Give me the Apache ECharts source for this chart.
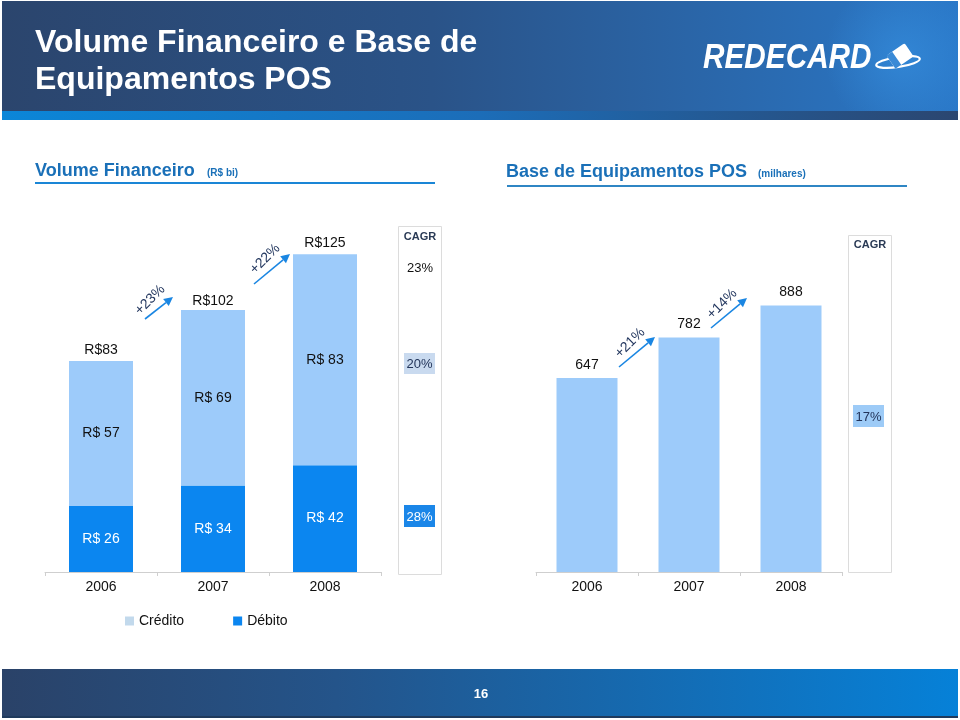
<!DOCTYPE html>
<html><head><meta charset="utf-8">
<script src="https://cdn.jsdelivr.net/npm/echarts@6/dist/echarts.min.js"></script>
<style>html,body{margin:0;padding:0;background:#fff}#c{width:960px;height:720px}</style>
</head><body><div id="c"></div>
<script>
// ---- data ----
const years = ['2006', '2007', '2008'];
const credito = [57, 69, 83];
const debito = [26, 34, 42];
const totals = [83, 102, 125];
const totalLabels = ['R$83', 'R$102', 'R$125'];
const posYears = ['2006', '2007', '2008'];
const posBase = [647, 782, 888];
const volGrowth = ['+23%', '+22%'];
const posGrowth = ['+21%', '+14%'];
const volCagr = ['23%', '20%', '28%']; // total, crédito, débito
const posCagr = ['17%'];
const seriesNames = ['Crédito', 'Débito'];

const FF = '"Liberation Sans", Arial, Helvetica, sans-serif';
const C_CRED = '#9dcbfa', C_DEB = '#0b86f0', C_LEG_CRED = '#c2d9ec';
const TXT = '#111';

function txt(x, y, text, font, fill, align, extra) {
  return Object.assign({
    type: 'text', x: x, y: y, silent: true,
    style: { text: text, font: font, fill: fill, align: align || 'left', textAlign: align || 'left',
             verticalAlign: 'middle', textVerticalAlign: 'middle' }
  }, extra || {});
}
function arrow(x1, y1, x2, y2) {
  const dx = x2 - x1, dy = y2 - y1, L = Math.sqrt(dx * dx + dy * dy);
  const ux = dx / L, uy = dy / L, hl = 9, hw = 4.5;
  const bx = x2 - ux * hl, by = y2 - uy * hl;
  return [
    { type: 'line', silent: true, shape: { x1: x1, y1: y1, x2: bx, y2: by }, style: { stroke: '#1a86e2', lineWidth: 1.6 } },
    { type: 'polygon', silent: true, shape: { points: [[x2, y2], [bx - uy * hw, by + ux * hw], [bx + uy * hw, by - ux * hw]] }, style: { fill: '#1a86e2' } }
  ];
}
function pill(x, y, w, h, bg, text, fill) {
  return [
    { type: 'rect', silent: true, shape: { x: x, y: y, width: w, height: h }, style: { fill: bg } },
    txt(x + w / 2, y + h / 2 + 1, text, '13px ' + FF, fill, 'center')
  ];
}

const graphics = [];
// header
graphics.push({ type: 'rect', silent: true, shape: { x: 2, y: 1, width: 956, height: 111 },
  style: { fill: new echarts.graphic.LinearGradient(0, 0, 1, 0, [
    { offset: 0, color: '#2b456d' }, { offset: 0.45, color: '#2a5388' }, { offset: 1, color: '#2a78c8' }]) } });
graphics.push({ type: 'rect', silent: true, shape: { x: 680, y: 1, width: 278, height: 111 },
  style: { fill: new echarts.graphic.RadialGradient(0.8, 0.5, 0.7, [
    { offset: 0, color: 'rgba(55,145,225,0.6)' }, { offset: 1, color: 'rgba(55,145,225,0)' }]) } });
graphics.push({ type: 'rect', silent: true, shape: { x: 2, y: 111, width: 956, height: 9 },
  style: { fill: new echarts.graphic.LinearGradient(0, 0, 1, 0, [
    { offset: 0, color: '#0b86d8' }, { offset: 0.5, color: '#1c6db8' }, { offset: 1, color: '#2b4670' }]) } });
graphics.push(txt(35, 43, 'Volume Financeiro e Base de', 'bold 32px ' + FF, '#fff'));
graphics.push(txt(35, 80, 'Equipamentos POS', 'bold 32px ' + FF, '#fff'));
// logo
graphics.push(txt(703, 58, 'REDECARD', 'italic bold 35px ' + FF, '#fff', 'left', { scaleX: 0.85 }));
graphics.push({ type: 'ellipse', silent: true, x: 898, y: 62, rotation: 0.15, shape: { cx: 0, cy: 0, rx: 22, ry: 5 },
  style: { fill: 'none', stroke: '#fff', lineWidth: 2.2 } });
graphics.push({ type: 'rect', silent: true, x: 900, y: 56, rotation: 0.6, shape: { x: -11, y: -8, width: 22, height: 16, r: 2 },
  style: { fill: '#fff' } });
graphics.push({ type: 'rect', silent: true, x: 900, y: 56, rotation: 0.6, shape: { x: -11, y: -8, width: 7, height: 16 },
  style: { fill: '#3a8ad6' } });

// section titles
graphics.push(txt(35, 171, 'Volume Financeiro', 'bold 18px ' + FF, '#1a70b8'));
graphics.push(txt(207, 173, '(R$ bi)', 'bold 10px ' + FF, '#1a70b8'));
graphics.push({ type: 'rect', silent: true, shape: { x: 35, y: 182, width: 400, height: 2 }, style: { fill: '#1a86d6' } });
graphics.push(txt(506, 172, 'Base de Equipamentos POS', 'bold 18px ' + FF, '#1a70b8'));
graphics.push(txt(758, 174, '(milhares)', 'bold 10px ' + FF, '#1a70b8'));
graphics.push({ type: 'rect', silent: true, shape: { x: 507, y: 185, width: 400, height: 2 }, style: { fill: '#2f86c4' } });

// CAGR boxes
graphics.push({ type: 'rect', silent: true, shape: { x: 398.5, y: 226.5, width: 43, height: 348 }, style: { fill: '#fff', stroke: '#dcdcdc', lineWidth: 1 } });
graphics.push(txt(420, 237, 'CAGR', 'bold 11px ' + FF, '#2a3a55', 'center'));
graphics.push(txt(420, 268, volCagr[0], '13px ' + FF, '#111', 'center'));
graphics.push(...pill(404, 353, 31, 21, '#c9daef', volCagr[1], '#22345a'));
graphics.push(...pill(404, 505, 31, 22, '#1a86e8', volCagr[2], '#fff'));
graphics.push({ type: 'rect', silent: true, shape: { x: 848.5, y: 235.5, width: 43, height: 337 }, style: { fill: '#fff', stroke: '#dcdcdc', lineWidth: 1 } });
graphics.push(txt(870, 245, 'CAGR', 'bold 11px ' + FF, '#2a3a55', 'center'));
graphics.push(...pill(853, 405, 31, 22, '#9dcbf7', posCagr[0], '#22345a'));

// growth arrows
graphics.push(...arrow(145, 319, 173, 297));
graphics.push(txt(150, 300, volGrowth[0], '14px ' + FF, '#22365e', 'center', { rotation: Math.PI / 4 }));
graphics.push(...arrow(254, 284, 290, 254));
graphics.push(txt(265, 259, volGrowth[1], '14px ' + FF, '#22365e', 'center', { rotation: Math.PI / 4 }));
graphics.push(...arrow(619, 367, 655, 337));
graphics.push(txt(630, 343, posGrowth[0], '14px ' + FF, '#22365e', 'center', { rotation: Math.PI / 4 }));
graphics.push(...arrow(711, 328, 747, 298));
graphics.push(txt(722, 304, posGrowth[1], '14px ' + FF, '#22365e', 'center', { rotation: Math.PI / 4 }));

// footer
graphics.push({ type: 'rect', silent: true, shape: { x: 2, y: 669, width: 956, height: 48 },
  style: { fill: new echarts.graphic.LinearGradient(0, 0, 1, 0, [
    { offset: 0, color: '#2a4268' }, { offset: 0.35, color: '#24548a' }, { offset: 1, color: '#0681d8' }]) } });
graphics.push({ type: 'rect', silent: true, shape: { x: 2, y: 716, width: 956, height: 2 }, style: { fill: '#1f3a5c' } });
graphics.push(txt(481, 694, '16', 'bold 13px ' + FF, '#fff', 'center'));

const chart = echarts.init(document.getElementById('c'), null, { renderer: 'canvas' });
const axisCommon = {
  type: 'category',
  axisLine: { lineStyle: { color: '#cfcfcf', width: 1 } },
  axisTick: { show: true, length: 4, lineStyle: { color: '#cfcfcf' } },
  axisLabel: { color: TXT, fontSize: 14, fontFamily: FF, margin: 8 }
};
chart.setOption({
  animation: false,
  backgroundColor: '#fff',
  textStyle: { fontFamily: FF },
  grid: [
    { left: 45, top: 216, width: 336, height: 356 },
    { left: 536, top: 272, width: 306, height: 300 }
  ],
  xAxis: [
    Object.assign({ gridIndex: 0, data: years }, axisCommon),
    Object.assign({ gridIndex: 1, data: posYears }, axisCommon)
  ],
  yAxis: [
    { gridIndex: 0, type: 'value', min: 0, max: 140, show: false },
    { gridIndex: 1, type: 'value', min: 0, max: 1000, show: false }
  ],
  legend: {
    data: [
      { name: seriesNames[0], itemStyle: { color: C_LEG_CRED } },
      { name: seriesNames[1], itemStyle: { color: C_DEB } }
    ],
    left: 120, top: 609, icon: 'rect', itemWidth: 9, itemHeight: 9, itemGap: 49,
    textStyle: { color: TXT, fontSize: 14, fontFamily: FF }, selectedMode: false
  },
  series: [
    { name: seriesNames[1], type: 'bar', stack: 'v', xAxisIndex: 0, yAxisIndex: 0, data: debito,
      barWidth: 64, barGap: '-100%', itemStyle: { color: C_DEB },
      label: { show: true, position: 'inside', color: '#fff', fontSize: 14, fontFamily: FF, formatter: p => 'R$ ' + p.value } },
    { name: seriesNames[0], type: 'bar', stack: 'v', xAxisIndex: 0, yAxisIndex: 0, data: credito,
      barWidth: 64, barGap: '-100%', itemStyle: { color: C_CRED },
      label: { show: true, position: 'inside', color: TXT, fontSize: 14, fontFamily: FF, formatter: p => 'R$ ' + p.value } },
    { name: 'Total', type: 'bar', xAxisIndex: 0, yAxisIndex: 0, data: totals, barWidth: 64, barGap: '-100%', z: 1,
      itemStyle: { color: 'rgba(0,0,0,0)' }, silent: true,
      label: { show: true, position: 'top', distance: 4, color: TXT, fontSize: 14, fontFamily: FF, formatter: p => totalLabels[p.dataIndex] } },
    { name: 'POS', type: 'bar', xAxisIndex: 1, yAxisIndex: 1, data: posBase, barWidth: 61,
      itemStyle: { color: C_CRED },
      label: { show: true, position: 'top', distance: 6, color: TXT, fontSize: 14, fontFamily: FF } }
  ],
  graphic: { elements: graphics }
});
</script>
</body></html>
